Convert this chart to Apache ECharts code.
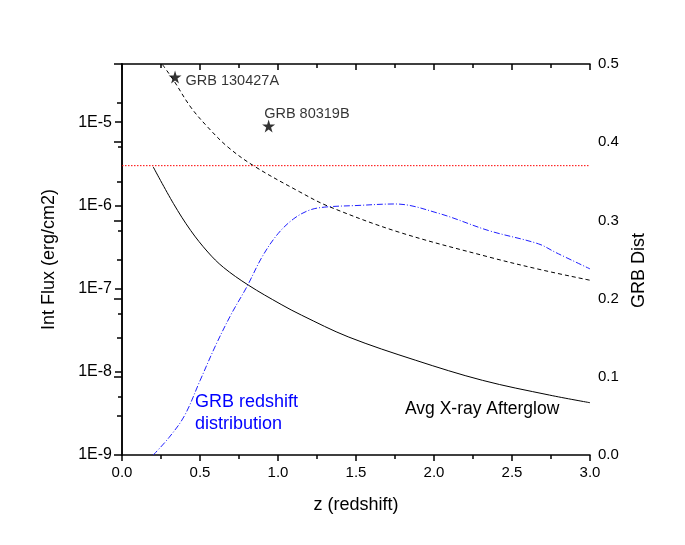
<!DOCTYPE html>
<html>
<head>
<meta charset="utf-8">
<script src="https://cdn.jsdelivr.net/npm/echarts@6/dist/echarts.min.js"></script>
<style>
  html, body { margin: 0; padding: 0; background: #fff; }
</style>
</head>
<body>
<div id="main" style="width: 685px; height: 545px;"></div>
<script>
// 平均X射线余辉 (实线)
var zAvg = [0.20, 0.33, 0.44, 0.55, 0.65, 0.81, 1.02, 1.15, 1.45, 1.88, 2.31, 2.74, 3.0];
var fluxAvg = [2.9e-6, 1.05e-6, 5.0e-7, 2.75e-7, 1.8e-7, 1.1e-7, 6.45e-8, 4.8e-8, 2.63e-8, 1.38e-8, 7.9e-9, 5.25e-9, 4.25e-9];
// 虚线
var zBright = [0.26, 0.33, 0.44, 0.55, 0.68, 0.85, 1.14, 1.32, 1.77, 2.35, 2.7, 3.0];
var fluxBright = [4.9e-5, 3.2e-5, 1.52e-5, 8.7e-6, 5.0e-6, 2.94e-6, 1.45e-6, 9.8e-7, 4.8e-7, 2.4e-7, 1.66e-7, 1.26e-7];
// GRB redshift distribution (right axis)
var zDist = [0.2, 0.3, 0.4, 0.5, 0.6, 0.7, 0.8, 0.9, 1.0, 1.1, 1.2, 1.3, 1.5, 1.75, 2.03, 2.35, 2.67, 2.78, 3.0];
var grbDist = [0, 0.022, 0.05, 0.095, 0.14, 0.18, 0.215, 0.254, 0.283, 0.302, 0.313, 0.317, 0.319, 0.321, 0.309, 0.287, 0.27, 0.259, 0.238];
// 单个暴
var grbNames = ['GRB 130427A', 'GRB 80319B'];
var grbZ = [0.34, 0.94];
var grbFlux = [3.5e-5, 9e-6];
// 红色点线
var thresholdZ = [0, 3];
var thresholdFlux = [3e-6, 3e-6];

function pairs(xs, ys) {
  var out = [];
  for (var i = 0; i < xs.length; i++) out.push([xs[i], ys[i]]);
  return out;
}

var font = 'Liberation Sans, Arial, Helvetica, sans-serif';
var starPath = 'path://M50,0 L61,35 L98,35 L68,57 L79,91 L50,70 L21,91 L32,57 L2,35 L39,35 Z';
var logTop = Math.log10(5e-5);

var myChart = echarts.init(document.getElementById('main'));
var option = {
  animation: false,
  backgroundColor: '#fff',
  grid: { left: 122, right: 95, top: 64, bottom: 90 },
  xAxis: [
    {
      type: 'value', min: 0, max: 3, interval: 0.5,
      name: 'z (redshift)', nameLocation: 'middle', nameGap: 41,
      nameTextStyle: { fontFamily: font, fontSize: 18, color: '#000' },
      axisLine: { lineStyle: { color: '#000', width: 1.5 } },
      axisTick: { length: 6, lineStyle: { color: '#000', width: 1.5 } },
      minorTick: { show: true, splitNumber: 2, length: 4, lineStyle: { color: '#000', width: 1.5 } },
      axisLabel: { fontFamily: font, fontSize: 15, color: '#000', margin: 10,
        formatter: function (v) { return v.toFixed(1); } },
      splitLine: { show: false }
    },
    {
      type: 'value', min: 0, max: 3, interval: 0.5, position: 'top',
      axisLine: { lineStyle: { color: '#000', width: 1.5 } },
      axisTick: { inside: true, length: 6, lineStyle: { color: '#000', width: 1.5 } },
      minorTick: { show: true, splitNumber: 2, length: 4, lineStyle: { color: '#000', width: 1.5 } },
      axisLabel: { show: false },
      splitLine: { show: false }
    }
  ],
  yAxis: [
    {
      type: 'log', logBase: 10, min: 1e-9, max: 5e-5, position: 'left',
      name: 'Int Flux (erg/cm2)', nameLocation: 'middle', nameGap: 64,
      nameTextStyle: { fontFamily: font, fontSize: 18, color: '#000' },
      axisLine: { show: true, lineStyle: { color: '#000', width: 1.5 } },
      axisTick: { length: 7, lineStyle: { color: '#000', width: 1.5 } },
      axisLabel: { fontFamily: font, fontSize: 16, color: '#000', margin: 10, showMaxLabel: false,
        formatter: function (v) { return '1E' + Math.round(Math.log10(v)); } },
      splitLine: { show: false }
    },
    {
      type: 'value', min: 0, max: 0.5, interval: 0.1, position: 'right',
      name: 'GRB Dist', nameLocation: 'middle', nameGap: 36, nameRotate: 90,
      nameTextStyle: { fontFamily: font, fontSize: 18, color: '#000', padding: [0, 22, 0, 0] },
      axisLine: { show: true, lineStyle: { color: '#000', width: 1.5 } },
      axisTick: { inside: true, length: 8, lineStyle: { color: '#000', width: 1.5 } },
      minorTick: { show: true, splitNumber: 2, length: 5, lineStyle: { color: '#000', width: 1.5 } },
      axisLabel: { fontFamily: font, fontSize: 15, color: '#000', margin: 8,
        formatter: function (v) { return v.toFixed(1); } },
      splitLine: { show: false }
    },
    {
      // 小刻度 5E-n：反向轴, 顶端(5E-5)为 min, 每隔一个数量级一个刻度
      type: 'value', inverse: true, min: -9, max: logTop, interval: 1, position: 'left',
      axisLine: { show: false },
      axisTick: { length: 4, lineStyle: { color: '#000', width: 1.5 } },
      axisLabel: { show: false },
      splitLine: { show: false }
    }
  ],
  series: [
    {
      name: 'Avg X-ray Afterglow', type: 'line', xAxisIndex: 0, yAxisIndex: 0,
      data: pairs(zAvg, fluxAvg), smooth: 0.35, symbol: 'none',
      lineStyle: { color: '#000', width: 1 }
    },
    {
      name: 'bright', type: 'line', xAxisIndex: 0, yAxisIndex: 0,
      data: pairs(zBright, fluxBright), smooth: 0.35, symbol: 'none',
      lineStyle: { color: '#000', width: 1, type: [4, 3] }
    },
    {
      name: 'threshold', type: 'line', xAxisIndex: 0, yAxisIndex: 0,
      data: pairs(thresholdZ, thresholdFlux), symbol: 'none',
      lineStyle: { color: '#ff0000', width: 1, type: [1.5, 1.5] }
    },
    {
      name: 'GRB Dist', type: 'line', xAxisIndex: 0, yAxisIndex: 1,
      data: pairs(zDist, grbDist), smooth: 0.35, symbol: 'none',
      lineStyle: { color: '#2020ff', width: 1, type: [6, 2, 1, 2] }
    },
    {
      name: 'GRBs', type: 'scatter', xAxisIndex: 0, yAxisIndex: 0,
      symbol: starPath, symbolSize: 13,
      itemStyle: { color: '#000' },
      data: grbZ.map(function (z, i) {
        return {
          value: [z, grbFlux[i]],
          name: grbNames[i],
          label: i === 0
            ? { position: 'right', distance: 4, offset: [0, 4] }
            : { position: 'right', distance: 4, offset: [-15, -12] }
        };
      }),
      label: {
        show: true, fontFamily: font, fontSize: 14.5, color: '#000',
        formatter: function (p) { return p.name; }
      }
    }
  ],
  graphic: [
    {
      type: 'text', left: 195, top: 391,
      style: { text: 'GRB redshift\ndistribution', fill: '#0000ff', font: '18px ' + font, lineHeight: 22 }
    },
    {
      type: 'text', left: 405, top: 400,
      style: { text: 'Avg X-ray Afterglow', fill: '#000', font: '17.5px ' + font }
    }
  ]
};
myChart.setOption(option);
</script>
</body>
</html>
